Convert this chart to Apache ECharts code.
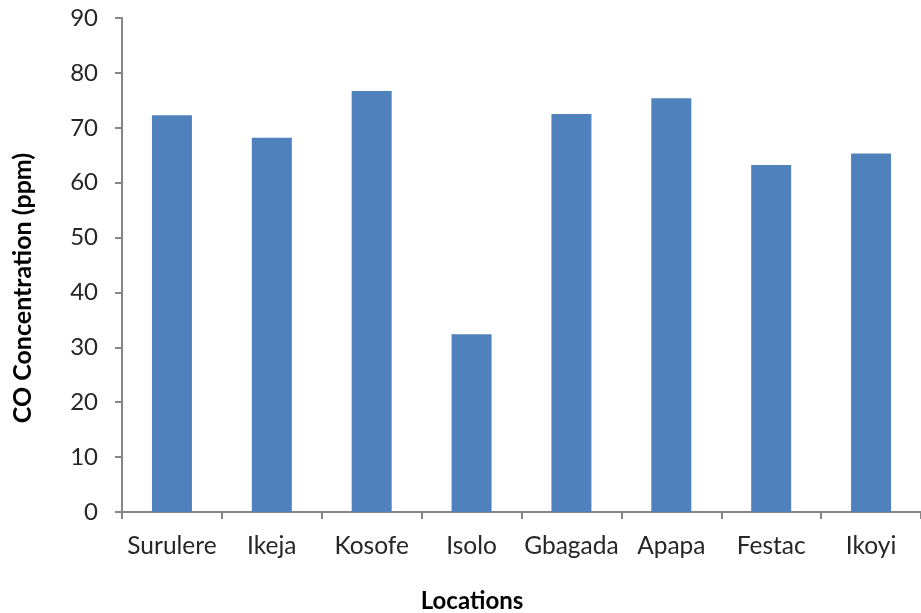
<!DOCTYPE html>
<html>
<head>
<meta charset="utf-8">
<script src="https://cdn.jsdelivr.net/npm/echarts@6/dist/echarts.min.js"></script>
<style>html,body{margin:0;padding:0;background:#fff}#c{width:921px;height:613px}</style>
</head>
<body>
<div id="c"></div>
<script>
const categories = ['Surulere', 'Ikeja', 'Kosofe', 'Isolo', 'Gbagada', 'Apapa', 'Festac', 'Ikoyi'];
const coValues = [72.3, 68.2, 76.7, 32.4, 72.5, 75.4, 63.2, 65.3];
const yTitle = 'CO Concentration (ppm)';
const xTitle = 'Locations';

const chart = echarts.init(document.getElementById('c'), null, {renderer: 'canvas'});
const font = 'Lato';
chart.setOption({
  animation: false,
  backgroundColor: '#fff',
  grid: {left: 122, top: 18, width: 800, bottom: 101, containLabel: false},
  xAxis: {
    type: 'category',
    data: categories,
    axisLine: {lineStyle: {color: '#868686', width: 2}},
    axisTick: {show: true, interval: 0, length: 7, lineStyle: {color: '#868686', width: 2}},
    axisLabel: {interval: 0, color: '#262626', fontFamily: font, fontSize: 24.5, margin: 22}
  },
  yAxis: {
    type: 'value',
    min: 0, max: 90, interval: 10,
    axisLine: {show: true, lineStyle: {color: '#868686', width: 2}},
    axisTick: {show: true, length: 7, lineStyle: {color: '#868686', width: 2}},
    splitLine: {show: false},
    axisLabel: {color: '#262626', fontFamily: font, fontSize: 24, margin: 24}
  },
  series: [{
    type: 'bar',
    data: coValues,
    barWidth: 40,
    itemStyle: {color: '#4F81BD'}
  }],
  graphic: [
    {type: 'text', x: 23, y: 288, rotation: Math.PI / 2,
     style: {text: yTitle, fill: '#000', font: 'bold 25px Lato', align: 'center', verticalAlign: 'middle'}},
    {type: 'text', x: 472, y: 601,
     style: {text: xTitle, fill: '#000', font: 'bold 24px Lato', align: 'center', verticalAlign: 'middle'}}
  ]
});
</script>
</body>
</html>
